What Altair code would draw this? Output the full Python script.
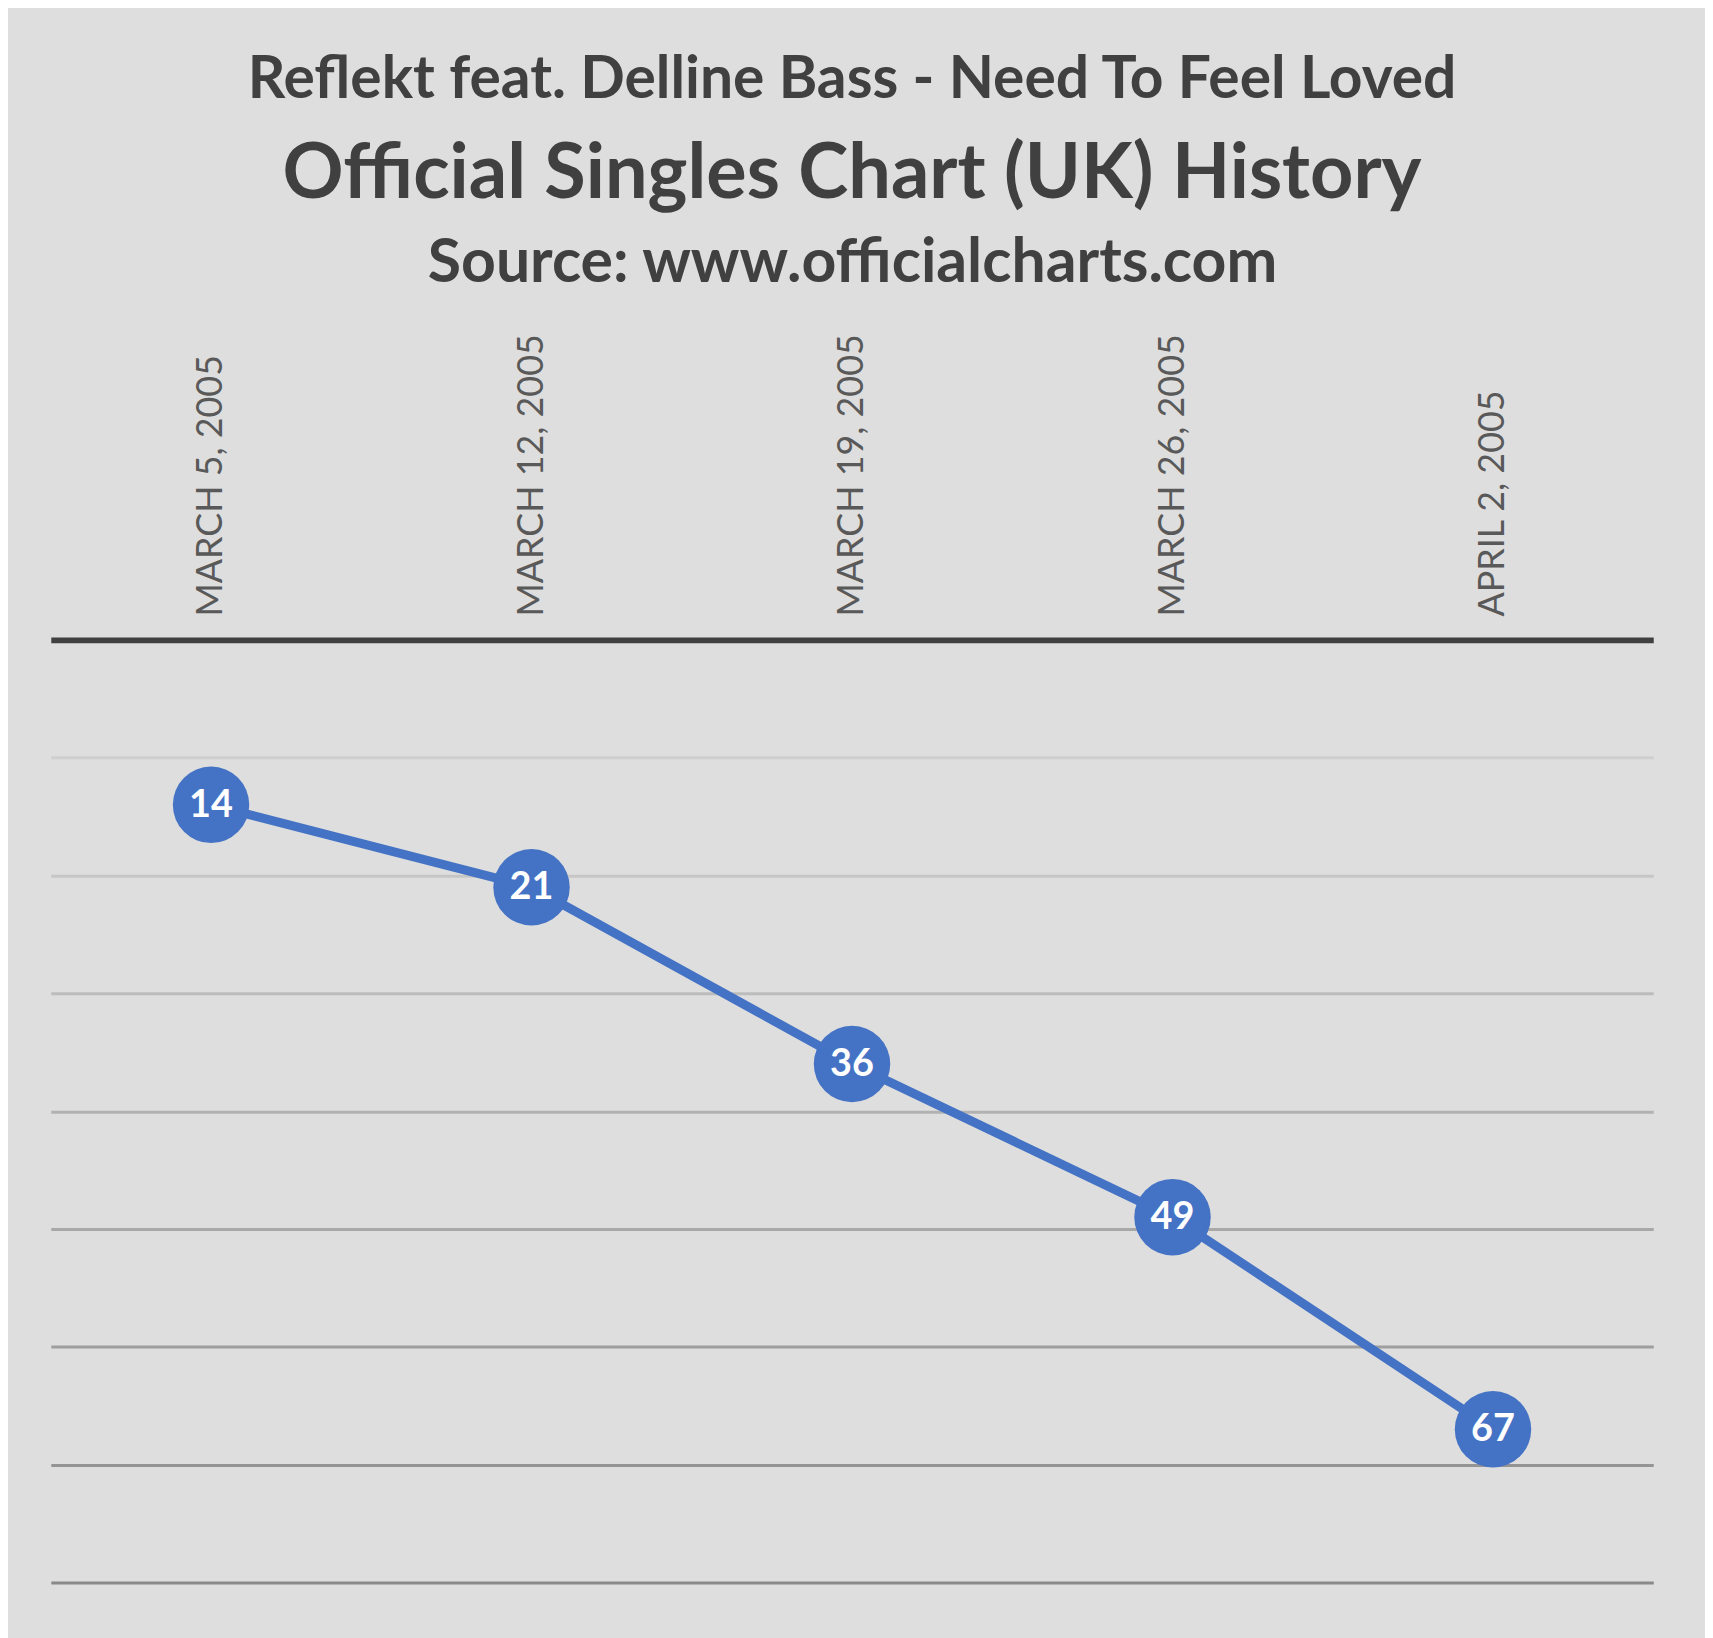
import altair as alt
import pandas as pd

dates = ["MARCH 5, 2005", "MARCH 12, 2005", "MARCH 19, 2005", "MARCH 26, 2005", "APRIL 2, 2005"]
positions = [14, 21, 36, 49, 67]
grid_values = [10, 20, 30, 40, 50, 60, 70, 80]

df = pd.DataFrame({"date": dates, "pos": positions})

FONT = "Lato"
BLUE = "#4472C4"

grid_colors = ["#cfcfcf", "#c6c6c6", "#bcbcbc", "#b2b2b2", "#a8a8a8", "#9e9e9e", "#949494", "#8a8a8a"]
grid_cond = {
    "condition": [{"test": f"datum.value <= {v}", "value": c} for v, c in zip(grid_values[:-1], grid_colors[:-1])],
    "value": grid_colors[-1],
}

x = alt.X(
    "date:N",
    sort=dates,
    scale=alt.Scale(type="point", padding=0.5),
    axis=alt.Axis(
        orient="top",
        title="Source: www.officialcharts.com",
        titleFont=FONT,
        titleFontSize=61,
        titleFontWeight="bold",
        titleColor="#404040",
        titleBaseline="alphabetic",
        titleY=-360,
        labelAngle=-90,
        labelFont=FONT,
        labelFontSize=36,
        labelColor="#595959",
        labelPadding=24,
        labelLimit=0,
        ticks=False,
        domainColor="#404040",
        domainWidth=6,
        grid=False,
    ),
)
y = alt.Y(
    "pos:Q",
    scale=alt.Scale(domain=[0, 80], reverse=True, nice=False, zero=False),
    axis=alt.Axis(
        values=grid_values,
        labels=False,
        ticks=False,
        domain=False,
        title=None,
        grid=True,
        gridColor=grid_cond,
        gridWidth=3,
    ),
)

base = alt.Chart(df).encode(x=x, y=y)
line = base.mark_line(color=BLUE, strokeWidth=9)
pts = base.mark_circle(color=BLUE, size=5900, opacity=1)
txt = base.mark_text(color="white", font=FONT, fontSize=38, fontWeight="bold", baseline="middle", dy=1).encode(
    text="pos:Q"
)

chart = (
    alt.layer(line, pts, txt)
    .properties(
        width=1610,
        height=947,
        autosize=alt.AutoSizeParams(type="none"),
        padding={"left": 43, "top": 631, "right": 52, "bottom": 52},
        background="#dedede",
        title=alt.TitleParams(
            text="Reflekt feat. Delline Bass - Need To Feel Loved",
            subtitle="Official Singles Chart (UK) History",
            font=FONT,
            fontSize=59,
            fontWeight="bold",
            color="#404040",
            subtitleFont=FONT,
            subtitleFontSize=76,
            subtitleFontWeight="bold",
            subtitleColor="#404040",
            subtitlePadding=28,
            anchor="middle",
            offset=20,
        ),
    )
    .configure_view(stroke=None)
)

chart.save("out.html", embed_options={"renderer": "svg", "actions": False})
